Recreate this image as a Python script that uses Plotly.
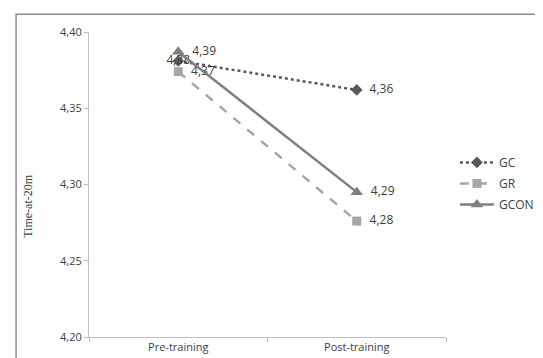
import plotly.graph_objects as go

categories = ["Pre-training", "Post-training"]
gc = [4.381, 4.362]
gr = [4.374, 4.276]
gcon = [4.387, 4.295]
gc_labels = ["4,38", "4,36"]
gr_labels = ["4,37", "4,28"]
gcon_labels = ["4,39", "4,29"]
y_ticks = [4.20, 4.25, 4.30, 4.35, 4.40]
y_title = "Time-at-20m"

pad = "\u00a0\u00a0"
lab_font = dict(family="Open Sans, Noto Sans, sans-serif", size=12, color="#404040")

fig = go.Figure()
fig.add_trace(go.Scatter(
    x=categories, y=gc, name="GC", mode="lines+markers+text",
    text=[gc_labels[0], pad + gc_labels[1]], textposition=["middle center", "middle right"],
    textfont=lab_font,
    line=dict(color="#595959", width=2.5, dash="dot"),
    marker=dict(symbol="diamond", size=9, color="#595959"),
    legendgroup="a"))
fig.add_trace(go.Scatter(
    x=categories, y=gr, name="GR", mode="lines+markers+text",
    text=[pad + t for t in gr_labels], textposition="middle right", textfont=lab_font,
    line=dict(color="#A6A6A6", width=2.5, dash="dash"),
    marker=dict(symbol="square", size=9, color="#A6A6A6"),
    legendgroup="b"))
fig.add_trace(go.Scatter(
    x=categories, y=gcon, name="GCON", mode="lines+markers+text",
    text=[pad + t for t in gcon_labels], textposition="middle right", textfont=lab_font,
    line=dict(color="#7F7F7F", width=2.5),
    marker=dict(symbol="triangle-up", size=11, color="#7F7F7F"),
    legendgroup="c"))

L, R, T, B = 81, 90, 24, 26
pw = 543 - L - R
ph = 358 - T - B

fig.update_layout(
    width=543, height=358,
    margin=dict(l=L, r=R, t=T, b=B),
    paper_bgcolor="white", plot_bgcolor="white",
    separators=",.",
    showlegend=True,
    legend=dict(x=1.025, y=0.62, xanchor="left", yanchor="top",
                font=dict(family="Open Sans, Noto Sans, sans-serif", size=12, color="#404040"),
                tracegroupgap=2, itemwidth=34, bgcolor="rgba(0,0,0,0)"),
    xaxis=dict(type="category", range=[-0.5, 1.5], showgrid=False,
               showline=True, linecolor="#BFBFBF", linewidth=1,
               ticks="outside", tickson="boundaries", ticklen=4, tickcolor="#BFBFBF",
               tickfont=dict(family="Open Sans, Noto Sans, sans-serif", size=11, color="#404040")),
    yaxis=dict(range=[4.20, 4.40], tickvals=y_ticks, tickformat=".2f", showgrid=False,
               zeroline=False,
               showline=True, linecolor="#BFBFBF", linewidth=1,
               ticks="outside", ticklen=4, tickcolor="#BFBFBF",
               tickfont=dict(family="Open Sans, Noto Sans, sans-serif", size=11, color="#404040")),
    annotations=[dict(text=y_title, xref="paper", yref="paper",
                      x=(18 - L) / pw, y=(358 - B - 200) / ph,
                      xanchor="center", yanchor="middle", textangle=-90, showarrow=False,
                      font=dict(family="Liberation Serif, serif", size=12, color="#404040"))],
    shapes=[dict(type="rect", xref="paper", yref="paper",
                 x0=(5 - L) / pw, x1=(548 - L) / pw,
                 y0=(358 - B - 362) / ph, y1=(358 - B - 6) / ph,
                 line=dict(color="#8C8C8C", width=1.5), fillcolor="rgba(0,0,0,0)", layer="below")],
)

fig.write_html("out.html")
